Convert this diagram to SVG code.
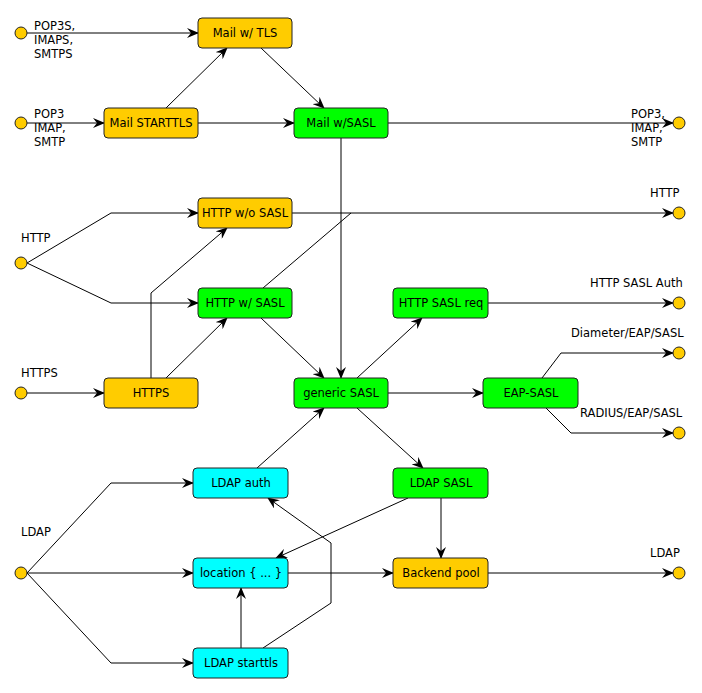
<svg xmlns="http://www.w3.org/2000/svg" width="702" height="693" viewBox="0 0 702 693">
<style>
  .box { stroke: #222; stroke-width: 1; }
  .orange { fill: #ffcc00; }
  .green { fill: #00ff00; }
  .cyan { fill: #00ffff; }
  .port { fill: #ffcc00; stroke: #222; stroke-width: 1; }
  text { font-family: "DejaVu Sans", "Liberation Sans", sans-serif; font-size: 11.5px; fill: #000; }
  .c { text-anchor: middle; }
  .conn path { fill: none; stroke: #000; stroke-width: 1; }
  .conn path.a { marker-end: url(#arr); }
</style>
<defs>
  <marker id="arr" viewBox="0 0 12 10" refX="11" refY="5" markerWidth="12" markerHeight="10" markerUnits="userSpaceOnUse" orient="auto">
    <path d="M0,0 L12,5 L0,10 L4,5 z" fill="#000"/>
  </marker>
</defs>

<g id="connectors" class="conn">
  <path class="a" d="M27,33 L198,33"/>
  <path class="a" d="M27,123 L104,123"/>
  <path class="a" d="M166,108 L227,48"/>
  <path class="a" d="M261,48 L324,108"/>
  <path class="a" d="M198,123 L294,123"/>
  <path class="a" d="M388,123 L673,123"/>
  <path class="a" d="M341,138 L341,378"/>
  <path class="a" d="M27,263 L111,213 L198,213"/>
  <path class="a" d="M27,263 L111,303 L198,303"/>
  <path class="a" d="M27,393 L104,393"/>
  <path class="a" d="M151,378 L151,293 L227,228"/>
  <path class="a" d="M166,378 L227,318"/>
  <path class="a" d="M261,318 L324,378"/>
  <path d="M263,288 L351,213"/>
  <path class="a" d="M292,213 L673,213"/>
  <path class="a" d="M357,378 L422,318"/>
  <path class="a" d="M488,303 L673,303"/>
  <path class="a" d="M388,393 L483,393"/>
  <path class="a" d="M542,378 L561,353 L673,353"/>
  <path class="a" d="M546,408 L571,433 L673,433"/>
  <path class="a" d="M357,408 L423,468"/>
  <path class="a" d="M257,468 L324,408"/>
  <path class="a" d="M27,573 L111,483 L193,483"/>
  <path class="a" d="M27,573 L193,573"/>
  <path class="a" d="M27,573 L111,663 L193,663"/>
  <path class="a" d="M408,498 L276,558"/>
  <path class="a" d="M441,498 L441,558"/>
  <path class="a" d="M288,573 L393,573"/>
  <path class="a" d="M488,573 L673,573"/>
  <path class="a" d="M241,648 L241,588"/>
  <path class="a" d="M263,648 L331,603 L331,543 L268,498"/>
</g>

<g id="ports">
  <circle class="port" cx="21" cy="33" r="6"/>
  <circle class="port" cx="21" cy="123" r="6"/>
  <circle class="port" cx="21" cy="263" r="6"/>
  <circle class="port" cx="21" cy="393" r="6"/>
  <circle class="port" cx="21" cy="573" r="6"/>
  <circle class="port" cx="679" cy="123" r="6"/>
  <circle class="port" cx="679" cy="213" r="6"/>
  <circle class="port" cx="679" cy="303" r="6"/>
  <circle class="port" cx="679" cy="353" r="6"/>
  <circle class="port" cx="679" cy="433" r="6"/>
  <circle class="port" cx="679" cy="573" r="6"/>
</g>

<g id="labels">
  <text x="34" y="30">POP3S,</text>
  <text x="34" y="44">IMAPS,</text>
  <text x="34" y="58">SMTPS</text>
  <text x="34" y="118">POP3</text>
  <text x="34" y="132">IMAP,</text>
  <text x="34" y="146">SMTP</text>
  <text x="631" y="118">POP3,</text>
  <text x="631" y="132">IMAP,</text>
  <text x="631" y="146">SMTP</text>
  <text x="650" y="197">HTTP</text>
  <text x="21" y="242">HTTP</text>
  <text x="21" y="377">HTTPS</text>
  <text x="590" y="287">HTTP SASL Auth</text>
  <text x="571" y="337">Diameter/EAP/SASL</text>
  <text x="580" y="417">RADIUS/EAP/SASL</text>
  <text x="21" y="536">LDAP</text>
  <text x="650" y="557">LDAP</text>
</g>

<g id="mail-tls"><rect class="box orange" x="198" y="18" width="94" height="30" rx="4"/><text class="c" x="245" y="37">Mail w/ TLS</text></g>
<g id="mail-starttls"><rect class="box orange" x="104" y="108" width="94" height="30" rx="4"/><text class="c" x="151" y="127">Mail STARTTLS</text></g>
<g id="mail-sasl"><rect class="box green" x="294" y="108" width="94" height="30" rx="4"/><text class="c" x="341" y="127">Mail w/SASL</text></g>
<g id="http-wo-sasl"><rect class="box orange" x="198" y="198" width="94" height="30" rx="4"/><text class="c" x="245" y="217">HTTP w/o SASL</text></g>
<g id="http-w-sasl"><rect class="box green" x="198" y="288" width="94" height="30" rx="4"/><text class="c" x="245" y="307">HTTP w/  SASL</text></g>
<g id="https"><rect class="box orange" x="104" y="378" width="94" height="30" rx="4"/><text class="c" x="151" y="397">HTTPS</text></g>
<g id="generic-sasl"><rect class="box green" x="294" y="378" width="94" height="30" rx="4"/><text class="c" x="341" y="397">generic SASL</text></g>
<g id="http-sasl-req"><rect class="box green" x="393" y="288" width="95" height="30" rx="4"/><text class="c" x="441" y="307">HTTP SASL req</text></g>
<g id="eap-sasl"><rect class="box green" x="483" y="378" width="95" height="30" rx="4"/><text class="c" x="531" y="397">EAP-SASL</text></g>
<g id="ldap-auth"><rect class="box cyan" x="193" y="468" width="95" height="30" rx="4"/><text class="c" x="241" y="487">LDAP auth</text></g>
<g id="location"><rect class="box cyan" x="193" y="558" width="95" height="30" rx="4"/><text class="c" x="241" y="577">location { ... }</text></g>
<g id="ldap-starttls"><rect class="box cyan" x="193" y="648" width="95" height="30" rx="4"/><text class="c" x="241" y="667">LDAP starttls</text></g>
<g id="ldap-sasl"><rect class="box green" x="393" y="468" width="95" height="30" rx="4"/><text class="c" x="441" y="487">LDAP SASL</text></g>
<g id="backend-pool"><rect class="box orange" x="393" y="558" width="95" height="30" rx="4"/><text class="c" x="441" y="577">Backend pool</text></g>
</svg>
